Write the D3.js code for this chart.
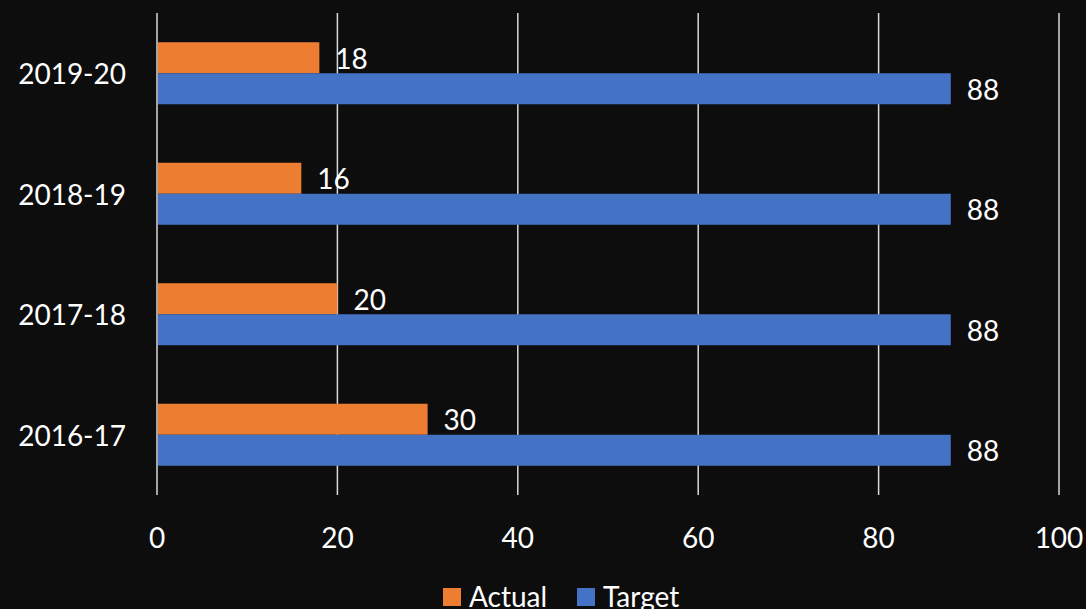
<!DOCTYPE html>
<html><head><meta charset="utf-8">
<script src="https://cdn.jsdelivr.net/npm/d3@7"></script>
<style>html,body{margin:0;padding:0;background:#0d0d0d;}svg{display:block;}</style>
</head><body>
<svg id="c" width="1086" height="609"></svg>
<script>
const categories = ["2016-17", "2017-18", "2018-19", "2019-20"];
const seriesNames = ["Actual", "Target"];
const actual = [30, 20, 16, 18];
const target = [88, 88, 88, 88];
const xTicks = [0, 20, 40, 60, 80, 100];
const colors = ["#ED7D31", "#4472C4"];

const W = 1086, H = 609;
const m = {left: 157, right: 27, top: 13, bottom: 114};
const font = "Lato, 'Open Sans', sans-serif";
const svg = d3.select("#c");
svg.append("rect").attr("width", W).attr("height", H).attr("fill", "#0d0d0d");

const x = d3.scaleLinear().domain([0, 100]).range([m.left, W - m.right]);
const y = d3.scaleBand().domain(categories.slice().reverse()).range([m.top, H - m.bottom]);
const inner = d3.scaleBand().domain(seriesNames).range([0, y.bandwidth()]).paddingInner(0).paddingOuter(0.943);

// grid
svg.append("g").selectAll("line").data(xTicks).join("line")
  .attr("x1", d => x(d)).attr("x2", d => x(d))
  .attr("y1", m.top).attr("y2", H - m.bottom)
  .attr("stroke", "#d9d9d9").attr("stroke-width", 1.5);

const rows = categories.map((c, i) => ({cat: c, vals: [actual[i], target[i]]}));
const g = svg.append("g");
rows.forEach(r => {
  r.vals.forEach((v, j) => {
    const yy = y(r.cat) + inner(seriesNames[j]);
    g.append("rect").attr("x", x(0) + 1).attr("y", yy)
      .attr("width", x(v) - x(0) - 1).attr("height", inner.bandwidth())
      .attr("fill", colors[j]);
    g.append("text").attr("x", x(v) + 16).attr("y", yy + inner.bandwidth() / 2)
      .attr("dominant-baseline", "central").attr("fill", "#ffffff")
      .attr("font-family", font).attr("font-size", 28).text(v);
  });
});

// y axis labels
svg.append("g").selectAll("text").data(categories).join("text")
  .attr("x", 126).attr("y", d => y(d) + y.bandwidth() / 2)
  .attr("text-anchor", "end").attr("dominant-baseline", "central")
  .attr("fill", "#ffffff").attr("font-family", font).attr("font-size", 28).text(d => d);

// x axis labels
svg.append("g").selectAll("text").data(xTicks).join("text")
  .attr("x", d => x(d)).attr("y", 537)
  .attr("text-anchor", "middle").attr("dominant-baseline", "central")
  .attr("fill", "#ffffff").attr("font-family", font).attr("font-size", 28).text(d => d);

// legend
const leg = svg.append("g");
const legX = [443, 577];
seriesNames.forEach((s, j) => {
  leg.append("rect").attr("x", legX[j]).attr("y", 588).attr("width", 18).attr("height", 18).attr("fill", colors[j]);
  leg.append("text").attr("x", legX[j] + 26).attr("y", 596).attr("dominant-baseline", "central")
    .attr("fill", "#ffffff").attr("font-family", font).attr("font-size", 28).text(s);
});
</script>
</body></html>
